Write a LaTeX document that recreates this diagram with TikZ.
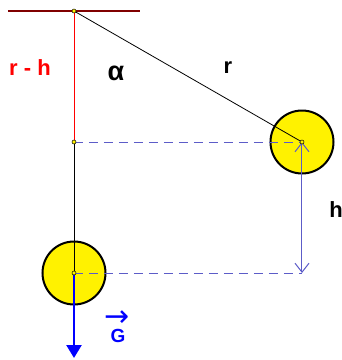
\documentclass[tikz,border=0pt]{standalone}
\usepackage{fontspec}
\setmainfont{Liberation Sans}
\newfontfamily\arrowfont{DejaVu Sans}
\usetikzlibrary{arrows.meta,calc}

\definecolor{ceil}{HTML}{800000}
\definecolor{dashblue}{HTML}{5C5CC8}

\begin{document}
\begin{tikzpicture}[x=1pt,y=-1pt,
  ball/.style={circle, draw=black, line width=2pt, fill=yellow, minimum size=63pt, inner sep=0pt},
  dot/.style={circle, draw=black, fill=yellow, line width=0.5pt, minimum size=4pt, inner sep=0pt},
  lbl/.style={font=\fontsize{22}{26}\selectfont\bfseries, inner sep=0pt},
  dsh/.style={draw=dashblue, line width=1pt, dash pattern=on 9pt off 6pt},
  harr/.style={{Straight Barb[length=9pt,width=14pt]}-{Straight Barb[length=9pt,width=14pt]}, draw=dashblue, line width=1pt},
  garr/.style={-{Triangle[length=13pt,width=15pt]}, draw=blue, line width=2.5pt}]
\useasboundingbox (0,0) rectangle (342,360);
% fixed points
\coordinate (cl) at (8,11);
\coordinate (cr) at (140,11);
\coordinate (p) at (74,11);
\coordinate (m) at (74,142);
\coordinate (g) at (74,358);
% the two positions of the bob
\node[ball] (b1) at (302,142) {};
\node[ball] (b2) at (74,273) {};
\coordinate (hb) at (b1.center |- b2.center);
% strings and guides
\draw[ceil, line width=2pt] (cl) -- (cr);
\draw[red, line width=0.8pt] (p) -- (m);
\draw[line width=0.8pt] (m) -- (b2.center);
\draw[line width=0.8pt] (p) -- (b1.center);
\draw[dsh] (m) -- (b1.center);
\draw[dsh] (b2.center) -- (hb);
\draw[harr] (b1.center) -- (hb);
\draw[garr] (b2.center) -- (g);
% pivots
\foreach \pt in {p,m,b1.center,b2.center}
  \node[dot] at (\pt) {};
% labels
\node[lbl, red] (rh) at (30,68) {r - h};
\node[lbl, font=\fontsize{27}{30}\selectfont\bfseries] (al) at (116,73) {α};
\node[lbl] (rl) at (228,68) {r};
\node[lbl] (hl) at (336,210) {h};
\node[lbl, blue, font=\fontsize{19}{22}\selectfont\bfseries, text depth=0pt, anchor=base] (gl) at (118,342) {G};
\node[lbl, blue, font=\fontsize{30}{32}\selectfont\arrowfont, text height=14pt, text depth=-6pt, anchor=base] (ga) at (117,326) {→};
\end{tikzpicture}
\end{document}
